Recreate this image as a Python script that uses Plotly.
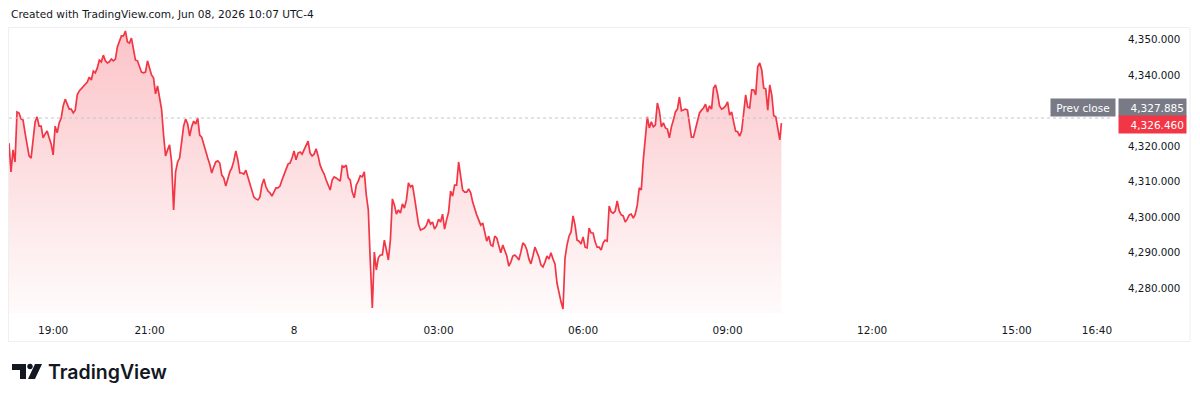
import pandas as pd
import plotly.graph_objects as go

# ---- data ----
start_time = "2026-06-07 18:05"          # first sample, 2.5-minute spacing
prices = [
    4320.8, 4312.7, 4318.9, 4315.5, 4329.6, 4329.3, 4327.6, 4327.3, 4323.7, 4320.0,
    4317.2, 4316.6, 4321.1, 4326.8, 4328.2, 4325.6, 4325.6, 4322.3, 4323.4, 4324.2,
    4322.3, 4320.6, 4317.5, 4325.6, 4323.7, 4326.5, 4327.9, 4331.3, 4333.2, 4331.6,
    4330.4, 4330.4, 4329.3, 4330.1, 4334.4, 4335.5, 4336.1, 4336.6, 4337.5, 4338.0,
    4339.4, 4338.6, 4341.1, 4340.6, 4342.0, 4344.2, 4343.7, 4345.6, 4344.0, 4343.4,
    4343.7, 4344.5, 4344.0, 4344.5, 4347.9, 4349.3, 4351.0, 4351.0, 4352.4, 4349.3,
    4349.0, 4350.4, 4347.3, 4344.2, 4344.0, 4342.3, 4340.8, 4340.6, 4340.8, 4344.0,
    4342.3, 4340.0, 4339.2, 4334.7, 4336.9, 4333.8, 4330.4, 4323.1, 4317.2, 4318.9,
    4320.3, 4315.5, 4302.0, 4312.7, 4315.5, 4316.6, 4321.4, 4325.6, 4327.6, 4326.2,
    4322.8, 4325.4, 4327.0, 4326.2, 4327.9, 4323.1, 4322.5, 4320.3, 4318.0, 4316.6,
    4314.9, 4312.4, 4314.1, 4315.5, 4315.8, 4315.2, 4311.8, 4311.0, 4308.7, 4310.7,
    4312.7, 4313.8, 4315.8, 4318.6, 4316.1, 4312.4, 4312.4, 4312.1, 4313.2, 4311.3,
    4309.3, 4307.0, 4305.6, 4305.1, 4304.8, 4305.6, 4309.0, 4310.7, 4308.5, 4307.3,
    4306.8, 4305.9, 4307.0, 4308.2, 4308.2, 4308.7, 4310.4, 4312.1, 4313.8, 4314.9,
    4315.2, 4316.6, 4318.6, 4316.1, 4318.0, 4318.3, 4317.7, 4318.9, 4320.3, 4321.4,
    4318.0, 4317.2, 4317.7, 4319.2, 4317.2, 4314.6, 4313.2, 4312.1, 4310.4, 4309.0,
    4307.6, 4310.4, 4311.3, 4311.0, 4310.4, 4310.1, 4314.4, 4314.1, 4314.6, 4311.0,
    4310.4, 4307.0, 4305.4, 4309.0, 4310.1, 4311.6, 4311.3, 4312.7, 4306.2, 4302.0,
    4287.3, 4274.4, 4290.1, 4285.1, 4288.5, 4289.3, 4289.3, 4293.5, 4290.7, 4287.9,
    4293.5, 4305.1, 4303.4, 4300.8, 4302.0, 4301.1, 4303.7, 4302.5, 4304.8, 4309.6,
    4308.5, 4309.0, 4305.6, 4301.4, 4298.0, 4296.3, 4296.6, 4296.9, 4297.7, 4299.4,
    4298.0, 4298.6, 4296.6, 4297.5, 4299.4, 4298.6, 4300.8, 4296.6, 4299.2, 4301.4,
    4307.3, 4305.9, 4309.0, 4309.0, 4315.5, 4311.3, 4307.6, 4307.0, 4307.0, 4307.9,
    4306.8, 4304.2, 4302.0, 4300.6, 4299.2, 4297.7, 4298.3, 4295.8, 4293.2, 4294.6,
    4292.1, 4291.8, 4294.6, 4294.1, 4292.1, 4289.9, 4292.1, 4290.7, 4289.0, 4286.2,
    4287.3, 4289.0, 4289.3, 4288.7, 4287.9, 4290.1, 4292.7, 4292.1, 4290.7, 4288.2,
    4286.8, 4289.0, 4291.5, 4290.1, 4288.7, 4286.5, 4285.9, 4287.3, 4289.0, 4288.2,
    4289.9, 4288.2, 4286.8, 4281.4, 4278.3, 4276.1, 4274.1, 4288.5, 4292.1, 4294.6,
    4295.8, 4300.3, 4297.7, 4293.5, 4293.2, 4292.4, 4294.4, 4291.5, 4291.3, 4296.9,
    4295.5, 4295.5, 4293.0, 4291.5, 4291.5, 4290.7, 4292.7, 4293.5, 4293.2, 4303.1,
    4301.4, 4301.1, 4301.7, 4304.5, 4301.7, 4300.6, 4300.3, 4298.6, 4299.4, 4300.6,
    4300.8, 4299.7, 4300.8, 4303.4, 4308.2, 4307.6, 4316.1, 4321.7, 4328.2, 4325.1,
    4326.8, 4325.4, 4325.9, 4332.1, 4329.9, 4325.4, 4326.5, 4325.1, 4324.8, 4322.3,
    4325.4, 4327.3, 4329.6, 4330.4, 4333.8, 4329.9, 4330.1, 4330.4, 4330.1, 4326.8,
    4322.5, 4322.5, 4325.1, 4327.3, 4329.3, 4330.1, 4330.7, 4331.8, 4329.6, 4331.3,
    4330.4, 4336.3, 4337.2, 4334.7, 4331.3, 4330.4, 4330.7, 4331.3, 4332.4, 4328.7,
    4329.6, 4326.8, 4324.2, 4324.0, 4322.8, 4324.2, 4328.7, 4334.4, 4331.0, 4330.7,
    4335.8, 4335.8, 4334.4, 4342.3, 4343.4, 4341.4, 4336.3, 4336.1, 4330.1, 4337.2,
    4334.4, 4328.5, 4328.2, 4325.1, 4321.7,
]
last_time = "2026-06-08 10:07"
last_price = 4326.460
prev_close = 4327.885

x_tick_times = ["2026-06-07 19:00", "2026-06-07 21:00", "2026-06-08 00:00",
                "2026-06-08 03:00", "2026-06-08 06:00", "2026-06-08 09:00",
                "2026-06-08 12:00", "2026-06-08 15:00", "2026-06-08 16:40"]
x_tick_text = ["19:00", "21:00", "8", "03:00", "06:00", "09:00", "12:00", "15:00", "16:40"]
y_ticks = [4280, 4290, 4300, 4310, 4320, 4340, 4350]   # 4,330 is hidden behind the price labels
x_range = ["2026-06-07 18:05", "2026-06-08 17:00"]
y_range = [4272.96, 4353.52]

times = list(pd.date_range(start_time, periods=len(prices), freq="150s")) + [pd.Timestamp(last_time)]
values = prices + [last_price]

RED = "#F23645"
GRAY = "#787B86"
TEXT = "#131722"
FONT = "DejaVu Sans"

W, H = 1200, 401
ML, MR, MT, MB = 9, 87, 27, 88
PW, PH = W - ML - MR, H - MT - MB


def px(x):
    return (x - ML) / PW


def py(y):
    return (H - MB - y) / PH


fig = go.Figure()
fig.add_trace(go.Scatter(
    x=times, y=values, mode="lines",
    line=dict(color=RED, width=1.7),
    fill="tozeroy",
    fillgradient=dict(type="vertical",
                      colorscale=[[0, "rgba(242,54,69,0.02)"], [1, "rgba(242,54,69,0.30)"]],
                      start=y_range[0], stop=y_range[1]),
    hoverinfo="skip", showlegend=False,
))

shapes = [
    dict(type="line", xref="paper", yref="y", x0=0, x1=1, y0=prev_close, y1=prev_close,
         line=dict(color="#C3C6CE", width=1, dash="dot")),
    dict(type="rect", xref="paper", yref="paper", x0=px(8.5), x1=px(1190), y0=py(27.5), y1=py(341.5),
         line=dict(color="#EEEFF2", width=1), fillcolor="rgba(0,0,0,0)", layer="below"),
    dict(type="path", xref="paper", yref="paper", fillcolor=TEXT, line=dict(width=0),
         path=f"M {px(12)} {py(364)} L {px(26)} {py(364)} L {px(26)} {py(379)} L {px(20)} {py(379)} "
              f"L {px(20)} {py(370)} L {px(12)} {py(370)} Z"),
    dict(type="circle", xref="paper", yref="paper", fillcolor=TEXT, line=dict(width=0),
         x0=px(27.3), x1=px(32.7), y0=py(369.2), y1=py(363.8)),
    dict(type="path", xref="paper", yref="paper", fillcolor=TEXT, line=dict(width=0),
         path=f"M {px(35)} {py(364)} L {px(42)} {py(364)} L {px(35)} {py(379)} L {px(28)} {py(379)} Z"),
]

annotations = [
    dict(text="Created with TradingView.com, Jun 08, 2026 10:07 UTC-4", xref="paper", yref="paper",
         x=px(9), y=py(14), xanchor="left", yanchor="middle", showarrow=False,
         font=dict(family=FONT, size=10.6, color=TEXT)),
    dict(text="TradingView", xref="paper", yref="paper", x=px(46), y=py(371.5),
         xanchor="left", yanchor="middle", showarrow=False,
         font=dict(family="Inter", size=19.5, color=TEXT, weight=600)),
    dict(text="Prev close", xref="paper", yref="y", x=1, y=prev_close, xanchor="right", yanchor="middle",
         xshift=3, yshift=11, showarrow=False, bgcolor=GRAY, width=60, height=13, borderpad=2,
         font=dict(family=FONT, size=10.5, color="white")),
    dict(text=f"{prev_close:,.3f}", xref="paper", yref="y", x=1, y=prev_close, xanchor="left",
         yanchor="middle", xshift=5, yshift=11, showarrow=False, bgcolor=GRAY, width=63, height=13,
         borderpad=2, align="right", font=dict(family=FONT, size=10.5, color="white")),
    dict(text=f"{last_price:,.3f}", xref="paper", yref="y", x=1, y=last_price, xanchor="left",
         yanchor="middle", xshift=5, yshift=-1.5, showarrow=False, bgcolor=RED, width=63, height=13,
         borderpad=2, align="right", font=dict(family=FONT, size=10.5, color="white")),
]

fig.update_layout(
    width=W, height=H, autosize=False,
    margin=dict(l=ML, r=MR, t=MT, b=MB, pad=0),
    paper_bgcolor="white", plot_bgcolor="white",
    font=dict(family=FONT, size=10.5, color=TEXT),
    shapes=shapes, annotations=annotations,
    xaxis=dict(range=x_range, tickvals=x_tick_times, ticktext=x_tick_text,
               showgrid=False, zeroline=False, showline=False, ticks="",
               ticklabelstandoff=9, tickfont=dict(family=FONT, size=10.5, color=TEXT)),
    yaxis=dict(range=y_range, side="right", tickvals=y_ticks,
               ticktext=[f"{v:,.3f}" for v in y_ticks],
               showgrid=False, zeroline=False, showline=False, ticks="",
               ticklabelstandoff=14, tickfont=dict(family=FONT, size=10.3, color=TEXT)),
    hovermode=False,
)

fig.write_html("out.html", config={"displayModeBar": False, "staticPlot": True})
